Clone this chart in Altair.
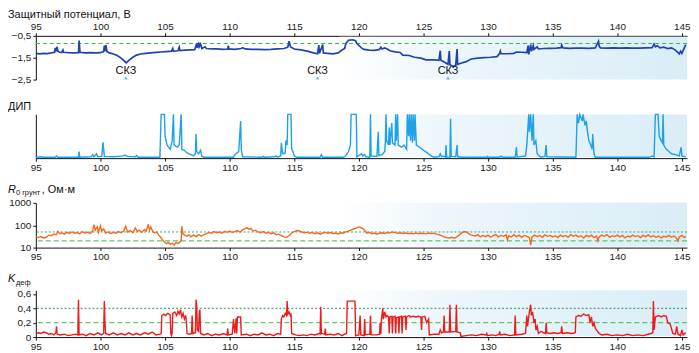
import altair as alt
import pandas as pd

# ---------------- data ----------------
X_TICKS = [95, 100, 105, 110, 115, 120, 125, 130, 135, 140, 145]

# Защитный потенциал, В : (km, V)
POTENTIAL = [
    (95.0, -1.30), (95.3, -1.32), (95.6, -1.30), (95.9, -1.31), (96.2, -1.28), (96.45, -1.25),
    (96.5, -1.05), (96.55, -1.22), (96.65, -1.00), (96.7, -1.20), (96.8, -1.24), (97.0, -1.26),
    (97.1, -1.15), (97.15, -1.25), (97.5, -1.27), (97.9, -1.28), (98.3, -1.27), (98.35, -0.72),
    (98.42, -1.25), (98.8, -1.28), (99.2, -1.27), (99.6, -1.28), (100.0, -1.27), (100.25, -1.22),
    (100.3, -0.95), (100.35, -1.20), (100.42, -0.92), (100.5, -1.22), (100.7, -1.28), (101.0, -1.33),
    (101.3, -1.40), (101.6, -1.52), (101.85, -1.65), (102.0, -1.73), (102.2, -1.62), (102.5, -1.48),
    (102.8, -1.38), (103.1, -1.33), (103.5, -1.30), (103.9, -1.28), (104.3, -1.26), (104.7, -1.24),
    (105.1, -1.22), (105.5, -1.20), (105.6, -1.08), (105.65, -1.20), (106.0, -1.18), (106.1, -1.02),
    (106.15, -1.17), (106.6, -1.15), (107.0, -1.14), (107.3, -1.13), (107.45, -0.85), (107.5, -1.05),
    (107.6, -0.80), (107.65, -1.00), (107.75, -0.88), (107.85, -1.08), (108.1, -1.00), (108.2, -1.08),
    (108.6, -1.10), (109.0, -1.10), (109.5, -1.12), (109.85, -1.10), (109.9, -0.95), (109.95, -1.10),
    (110.4, -1.12), (110.9, -1.08), (111.0, -1.04), (111.2, -1.10), (111.7, -1.12), (112.2, -1.12),
    (112.7, -1.13), (113.2, -1.12), (113.7, -1.10), (114.2, -1.08), (114.5, -1.02), (114.6, -0.74),
    (114.7, -1.00), (115.0, -1.10), (115.5, -1.14), (116.0, -1.20), (116.5, -1.28), (116.8, -1.32),
    (116.9, -0.92), (116.95, -1.30), (117.2, -0.90), (117.25, -1.28), (117.6, -1.30), (118.0, -1.32),
    (118.4, -1.28), (118.7, -1.15), (118.9, -1.08), (119.0, -0.85), (119.2, -0.70), (119.5, -0.68),
    (119.75, -0.72), (119.85, -0.85), (120.2, -1.05), (120.4, -1.12), (120.8, -1.15), (121.2, -1.16),
    (121.6, -1.12), (121.7, -1.02), (121.8, -1.10), (122.0, -1.05), (122.2, -1.10), (122.4, -1.18),
    (122.8, -1.23), (123.2, -1.26), (123.4, -1.38), (123.9, -1.40), (124.3, -1.48), (124.8, -1.52),
    (125.2, -1.60), (125.8, -1.60), (126.2, -1.62), (126.3, -1.18), (126.35, -1.62), (126.6, -1.70),
    (126.9, -1.80), (127.0, -1.20), (127.05, -1.82), (127.3, -1.90), (127.5, -1.85), (127.6, -1.10),
    (127.65, -1.80), (127.9, -1.75), (128.3, -1.68), (128.7, -1.56), (129.2, -1.52), (129.7, -1.50),
    (130.2, -1.48), (130.7, -1.45), (130.9, -1.30), (130.95, -1.20), (131.0, -1.32), (131.5, -1.32),
    (132.0, -1.30), (132.2, -1.24), (132.6, -1.25), (133.0, -1.27), (133.1, -0.95), (133.15, -1.35),
    (133.3, -0.90), (133.35, -1.20), (133.5, -0.95), (133.55, -1.12), (133.8, -1.00), (133.9, -1.10),
    (134.3, -1.08), (134.8, -1.07), (135.3, -1.06), (135.65, -1.04), (135.7, -0.92), (135.8, -1.05),
    (136.3, -1.07), (136.8, -1.06), (137.3, -1.06), (137.8, -1.07), (138.3, -1.05), (138.55, -0.75),
    (138.6, -0.98), (138.7, -1.05), (139.2, -1.06), (139.7, -1.05), (140.2, -1.06), (140.7, -1.05),
    (141.2, -1.06), (141.7, -1.06), (142.2, -1.05), (142.7, -1.04), (142.85, -0.88), (142.95, -1.00),
    (143.1, -0.95), (143.3, -1.05), (143.6, -1.02), (143.9, -1.08), (144.2, -1.05), (144.5, -1.15),
    (144.8, -1.32), (144.9, -1.20), (145.0, -1.30), (145.3, -0.90),
]
POT_LIMIT = -0.85
SKZ_KM = [101.97, 116.8, 126.9]
SKZ_LABEL = ["СКЗ", "СКЗ", "СКЗ"]

# ДИП (relative units, clipped at top)
DIP = [
    (95.0, 0.02), (95.4, 0.03), (95.5, 0.02), (96.5, 0.02), (96.6, 0.05), (96.7, 0.02), (98.3, 0.02),
    (98.35, 0.15), (98.4, 0.02), (99.3, 0.03), (99.4, 0.08), (99.5, 0.03), (99.7, 0.10), (99.8, 0.03),
    (100.1, 0.04), (100.2, 0.36), (100.3, 0.04), (101.0, 0.03), (101.8, 0.05), (101.9, 0.07),
    (102.1, 0.04), (102.7, 0.03), (102.8, 0.06), (102.9, 0.02), (104.6, 0.02), (104.7, 1.0),
    (104.95, 1.0), (105.0, 0.5), (105.15, 0.3), (105.4, 0.2), (105.55, 0.4), (105.65, 1.0),
    (105.7, 0.3), (105.95, 0.25), (106.1, 0.3), (106.25, 1.0), (106.3, 0.2), (106.5, 0.18),
    (106.7, 0.12), (107.0, 0.08), (107.2, 0.05), (107.35, 0.1), (107.4, 0.55), (107.45, 0.15),
    (107.6, 0.1), (107.75, 0.18), (107.85, 0.04), (108.0, 0.02), (110.3, 0.02), (110.4, 0.08),
    (110.5, 0.10), (110.7, 0.15), (110.85, 0.85), (110.9, 0.2), (111.0, 0.03), (112.5, 0.02),
    (112.6, 0.04), (112.7, 0.02), (113.5, 0.03), (113.6, 0.05), (113.7, 0.02), (113.95, 0.05),
    (114.0, 0.35), (114.1, 0.10), (114.3, 0.12), (114.35, 0.40), (114.45, 0.3), (114.5, 1.0),
    (114.75, 1.0), (114.8, 0.2), (114.9, 0.15), (115.0, 0.05), (115.2, 0.02), (117.0, 0.02),
    (117.1, 0.08), (117.2, 0.02), (118.8, 0.02), (119.0, 0.06), (119.2, 0.15), (119.35, 0.3),
    (119.4, 1.0), (119.8, 1.0), (119.85, 0.03), (120.1, 0.08), (120.2, 0.10), (120.3, 0.05),
    (120.45, 0.08), (120.55, 0.03), (120.85, 0.02), (120.9, 1.0), (120.95, 0.05), (121.4, 0.04),
    (121.5, 0.6), (121.55, 0.06), (121.8, 0.08), (122.0, 0.15), (122.05, 0.35), (122.1, 1.0),
    (122.15, 0.4), (122.3, 0.3), (122.35, 0.7), (122.4, 0.3), (122.55, 0.8), (122.6, 0.35),
    (122.8, 0.3), (122.85, 1.0), (122.9, 0.4), (123.0, 1.0), (123.05, 0.3), (123.3, 0.25),
    (123.5, 0.3), (123.7, 0.2), (123.75, 1.0), (123.85, 0.5), (123.9, 1.0), (124.0, 0.4),
    (124.05, 1.0), (124.15, 0.35), (124.2, 1.0), (124.3, 0.4), (124.35, 1.0), (124.45, 0.3),
    (124.7, 0.25), (125.0, 0.18), (125.3, 0.12), (125.6, 0.05), (125.8, 0.02), (126.2, 0.03),
    (126.3, 0.10), (126.4, 0.03), (126.5, 0.05), (126.7, 0.02), (126.75, 0.3), (126.8, 0.03),
    (127.05, 0.02), (127.1, 0.9), (127.15, 0.04), (127.5, 0.03), (127.6, 0.3), (127.65, 0.03),
    (128.0, 0.02), (129.9, 0.02), (129.95, 0.04), (130.0, 0.02), (130.9, 0.02), (131.0, 0.05),
    (131.1, 0.02), (132.1, 0.02), (132.2, 0.25), (132.25, 0.02), (132.9, 0.05), (133.0, 0.3),
    (133.15, 1.0), (133.2, 0.6), (133.3, 1.0), (133.4, 0.4), (133.5, 1.0), (133.55, 0.3),
    (133.7, 0.4), (133.8, 0.1), (133.95, 0.05), (134.1, 0.02), (134.4, 0.04), (134.5, 0.3),
    (134.55, 0.03), (136.8, 0.02), (136.9, 1.0), (137.0, 0.8), (137.1, 1.0), (137.3, 0.85),
    (137.35, 1.0), (137.5, 0.75), (137.6, 0.85), (137.7, 0.6), (137.8, 0.4), (137.95, 0.3),
    (138.05, 0.2), (138.1, 0.55), (138.2, 0.1), (138.3, 0.02), (142.5, 0.02), (142.7, 0.05),
    (142.85, 0.03), (142.95, 1.0), (143.15, 1.0), (143.25, 0.5), (143.4, 0.4), (143.5, 0.35),
    (143.55, 1.0), (143.6, 0.3), (143.8, 0.2), (144.0, 0.15), (144.2, 0.1), (144.5, 0.08),
    (144.8, 0.05), (144.95, 0.25), (145.0, 0.05), (145.3, 0.03),
]

# R0 грунт, Ом·м
R0 = [
    (95.0, 30), (95.2, 28), (95.4, 31), (95.6, 27), (95.8, 29), (96.0, 36), (96.2, 34), (96.4, 40),
    (96.6, 38), (96.7, 53), (96.85, 42), (97.0, 46), (97.2, 40), (97.4, 48), (97.6, 43), (97.8, 50),
    (98.0, 44), (98.2, 47), (98.4, 41), (98.6, 52), (98.8, 45), (99.0, 49), (99.2, 43), (99.4, 55),
    (99.5, 107), (99.6, 60), (99.75, 85), (99.85, 48), (100.0, 95), (100.1, 55), (100.25, 70),
    (100.4, 45), (100.6, 50), (100.8, 42), (101.0, 48), (101.2, 44), (101.4, 52), (101.6, 46),
    (101.8, 55), (101.95, 90), (102.1, 50), (102.3, 58), (102.5, 46), (102.7, 75), (102.85, 52),
    (103.0, 60), (103.2, 48), (103.4, 65), (103.55, 55), (103.7, 110), (103.8, 60), (103.9, 85),
    (104.05, 52), (104.2, 45), (104.35, 50), (104.5, 37), (104.65, 30), (104.8, 22), (104.95, 18),
    (105.1, 15), (105.25, 17), (105.4, 14), (105.55, 16), (105.7, 13), (105.85, 17), (106.0, 15),
    (106.15, 18), (106.25, 20), (106.3, 90), (106.4, 40), (106.55, 35), (106.7, 32), (106.85, 37),
    (107.0, 30), (107.2, 36), (107.4, 31), (107.6, 38), (107.8, 33), (108.0, 37), (108.2, 42),
    (108.4, 47), (108.6, 44), (108.8, 52), (109.0, 46), (109.2, 50), (109.4, 44), (109.6, 53),
    (109.8, 48), (110.0, 55), (110.2, 47), (110.4, 52), (110.6, 58), (110.8, 50), (111.0, 62),
    (111.2, 70), (111.35, 78), (111.5, 65), (111.65, 72), (111.8, 55), (112.0, 60), (112.2, 50),
    (112.4, 46), (112.6, 52), (112.8, 44), (113.0, 48), (113.2, 42), (113.4, 46), (113.6, 38),
    (113.8, 40), (114.0, 34), (114.2, 30), (114.4, 28), (114.6, 34), (114.8, 45), (115.0, 52),
    (115.2, 58), (115.4, 55), (115.6, 50), (115.8, 46), (116.0, 49), (116.2, 44), (116.4, 47),
    (116.6, 42), (116.8, 46), (117.0, 40), (117.2, 45), (117.4, 48), (117.6, 44), (117.8, 47),
    (118.0, 43), (118.2, 45), (118.4, 41), (118.6, 46), (118.8, 44), (119.0, 50), (119.2, 55),
    (119.4, 62), (119.6, 68), (119.8, 75), (120.0, 84), (120.15, 78), (120.3, 70), (120.45, 60),
    (120.6, 44), (120.8, 48), (121.0, 42), (121.2, 45), (121.4, 40), (121.6, 44), (121.8, 46),
    (122.0, 43), (122.2, 47), (122.4, 45), (122.6, 50), (122.8, 47), (123.0, 44), (123.2, 46),
    (123.4, 43), (123.6, 45), (123.8, 42), (124.0, 44), (124.2, 41), (124.4, 45), (124.6, 42),
    (124.8, 44), (125.0, 43), (125.2, 41), (125.4, 45), (125.6, 42), (125.8, 44), (126.0, 40),
    (126.2, 38), (126.4, 34), (126.6, 30), (126.8, 28), (127.0, 27), (127.2, 29), (127.4, 26),
    (127.6, 31), (127.8, 38), (128.0, 48), (128.2, 52), (128.4, 47), (128.6, 38), (128.8, 35),
    (129.0, 33), (129.2, 38), (129.4, 30), (129.6, 35), (129.8, 31), (130.0, 36), (130.2, 29),
    (130.4, 34), (130.6, 38), (130.8, 30), (131.0, 35), (131.2, 32), (131.4, 37), (131.5, 22),
    (131.6, 34), (131.8, 30), (132.0, 38), (132.2, 31), (132.4, 36), (132.6, 29), (132.8, 35),
    (133.0, 32), (133.2, 28), (133.3, 13), (133.4, 30), (133.6, 36), (133.8, 31), (134.0, 35),
    (134.2, 29), (134.4, 37), (134.6, 32), (134.8, 35), (135.0, 30), (135.2, 34), (135.4, 28),
    (135.6, 36), (135.8, 31), (136.0, 35), (136.2, 29), (136.4, 38), (136.6, 32), (136.8, 36),
    (137.0, 30), (137.2, 34), (137.4, 27), (137.6, 35), (137.8, 31), (138.0, 36), (138.2, 28),
    (138.4, 33), (138.5, 20), (138.6, 30), (138.8, 36), (139.0, 32), (139.2, 38), (139.4, 29),
    (139.6, 34), (139.8, 31), (140.0, 36), (140.2, 30), (140.4, 35), (140.6, 27), (140.8, 33),
    (141.0, 30), (141.2, 36), (141.4, 31), (141.6, 34), (141.8, 28), (142.0, 35), (142.2, 31),
    (142.4, 37), (142.6, 30), (142.8, 34), (143.0, 29), (143.2, 33), (143.4, 27), (143.6, 32),
    (143.8, 30), (144.0, 35), (144.2, 29), (144.4, 33), (144.6, 26), (144.7, 20), (144.8, 30),
    (145.0, 35), (145.2, 28), (145.3, 32),
]
R0_LIMITS = [50, 20]

# K деф
KDEF = [
    (95.0, 0.05), (95.2, 0.06), (95.4, 0.05), (95.6, 0.07), (95.8, 0.06), (96.0, 0.04), (96.2, 0.05),
    (96.4, 0.03), (96.55, 0.06), (96.6, 0.15), (96.65, 0.04), (96.9, 0.03), (97.2, 0.04), (97.5, 0.02),
    (97.8, 0.03), (98.1, 0.04), (98.25, 0.03), (98.3, 0.52), (98.35, 0.03), (98.6, 0.04), (98.9, 0.02),
    (99.2, 0.05), (99.5, 0.03), (99.8, 0.06), (100.1, 0.03), (100.25, 0.05), (100.3, 0.50),
    (100.35, 0.20), (100.4, 0.05), (100.7, 0.03), (101.0, 0.06), (101.3, 0.03), (101.6, 0.05),
    (101.9, 0.03), (102.2, 0.06), (102.5, 0.03), (102.8, 0.05), (103.1, 0.03), (103.4, 0.06),
    (103.7, 0.04), (104.0, 0.07), (104.3, 0.03), (104.6, 0.04), (104.7, 0.05), (104.75, 0.30),
    (104.9, 0.32), (105.05, 0.30), (105.2, 0.33), (105.4, 0.31), (105.45, 0.04), (105.5, 0.02),
    (105.55, 0.05), (105.6, 0.33), (105.75, 0.35), (105.9, 0.30), (106.0, 0.36), (106.1, 0.32),
    (106.2, 0.38), (106.3, 0.28), (106.4, 0.33), (106.5, 0.25), (106.6, 0.30), (106.65, 0.22),
    (106.7, 0.05), (106.9, 0.04), (107.05, 0.05), (107.1, 0.30), (107.15, 0.05), (107.35, 0.06),
    (107.4, 0.52), (107.45, 0.45), (107.5, 0.10), (107.6, 0.08), (107.65, 0.35), (107.7, 0.38),
    (107.75, 0.05), (108.0, 0.03), (108.3, 0.05), (108.6, 0.02), (108.9, 0.04), (109.2, 0.03),
    (109.5, 0.05), (109.8, 0.03), (109.85, 0.12), (109.9, 0.03), (110.2, 0.04), (110.3, 0.25),
    (110.4, 0.05), (110.5, 0.26), (110.55, 0.05), (110.6, 0.28), (110.85, 0.28), (110.9, 0.03),
    (111.3, 0.04), (111.6, 0.02), (111.9, 0.04), (112.2, 0.03), (112.5, 0.06), (112.8, 0.03),
    (113.1, 0.04), (113.4, 0.02), (113.7, 0.05), (113.95, 0.04), (114.0, 0.25), (114.1, 0.30),
    (114.2, 0.28), (114.3, 0.33), (114.4, 0.30), (114.45, 0.50), (114.5, 0.32), (114.6, 0.35),
    (114.7, 0.30), (114.75, 0.33), (114.8, 0.05), (115.1, 0.03), (115.4, 0.02), (115.7, 0.03),
    (116.0, 0.02), (116.3, 0.04), (116.6, 0.03), (116.9, 0.05), (117.0, 0.04), (117.05, 0.42),
    (117.1, 0.05), (117.35, 0.04), (117.4, 0.12), (117.45, 0.03), (117.8, 0.04), (118.1, 0.03),
    (118.4, 0.05), (118.7, 0.02), (118.9, 0.04), (119.05, 0.05), (119.1, 0.50), (119.7, 0.50),
    (119.75, 0.02), (120.0, 0.03), (120.1, 0.30), (120.15, 0.03), (120.4, 0.02), (120.45, 0.25),
    (120.5, 0.03), (120.85, 0.04), (120.9, 0.30), (120.95, 0.03), (121.4, 0.03), (121.6, 0.04),
    (121.65, 0.20), (121.7, 0.04), (121.75, 0.25), (121.85, 0.40), (121.9, 0.25), (122.0, 0.35),
    (122.1, 0.28), (122.2, 0.30), (122.3, 0.28), (122.35, 0.05), (122.4, 0.28), (122.55, 0.29),
    (122.6, 0.05), (122.65, 0.28), (122.8, 0.29), (122.85, 0.05), (122.9, 0.27), (123.05, 0.28),
    (123.1, 0.05), (123.15, 0.28), (123.3, 0.29), (123.35, 0.05), (123.4, 0.28), (123.6, 0.29),
    (123.65, 0.10), (123.7, 0.28), (123.9, 0.30), (124.0, 0.28), (124.2, 0.29), (124.4, 0.28),
    (124.6, 0.29), (124.8, 0.28), (124.85, 0.10), (124.9, 0.28), (125.1, 0.29), (125.25, 0.20),
    (125.4, 0.25), (125.45, 0.03), (125.8, 0.04), (126.2, 0.04), (126.3, 0.10), (126.4, 0.06),
    (126.55, 0.07), (126.6, 0.30), (126.65, 0.07), (127.0, 0.07), (127.05, 0.45), (127.1, 0.07),
    (127.5, 0.08), (127.55, 0.45), (127.6, 0.07), (127.85, 0.06), (127.9, 0.01), (128.3, 0.02),
    (128.7, 0.03), (129.1, 0.02), (129.5, 0.04), (129.85, 0.03), (129.9, 0.05), (129.95, 0.02),
    (130.3, 0.03), (130.6, 0.02), (130.85, 0.04), (130.9, 0.08), (130.95, 0.03), (131.3, 0.04),
    (131.7, 0.02), (132.05, 0.03), (132.1, 0.30), (132.15, 0.03), (132.6, 0.04), (132.9, 0.05),
    (133.0, 0.30), (133.05, 0.15), (133.2, 0.35), (133.3, 0.45), (133.35, 0.30), (133.45, 0.35),
    (133.55, 0.20), (133.65, 0.25), (133.7, 0.10), (133.8, 0.15), (133.9, 0.05), (134.1, 0.08),
    (134.3, 0.06), (134.45, 0.05), (134.5, 0.20), (134.55, 0.06), (134.8, 0.05), (135.1, 0.06),
    (135.4, 0.05), (135.65, 0.06), (135.7, 0.15), (135.75, 0.05), (136.1, 0.06), (136.5, 0.05),
    (136.75, 0.06), (136.8, 0.28), (137.0, 0.30), (137.2, 0.29), (137.4, 0.32), (137.6, 0.30),
    (137.8, 0.31), (137.9, 0.20), (138.0, 0.28), (138.1, 0.15), (138.2, 0.20), (138.3, 0.12),
    (138.6, 0.05), (138.8, 0.03), (139.2, 0.04), (139.6, 0.02), (140.0, 0.03), (140.4, 0.02),
    (140.8, 0.04), (141.2, 0.02), (141.6, 0.03), (142.0, 0.02), (142.4, 0.04), (142.6, 0.05),
    (142.75, 0.06), (142.8, 0.50), (142.85, 0.10), (142.95, 0.28), (143.2, 0.30), (143.4, 0.28),
    (143.6, 0.30), (143.8, 0.29), (143.9, 0.20), (144.1, 0.18), (144.3, 0.05), (144.5, 0.04),
    (144.6, 0.15), (144.7, 0.04), (144.9, 0.02), (145.0, 0.10), (145.1, 0.03), (145.3, 0.06),
]
KDEF_LIMITS = [0.4, 0.2]

# ---------------- layout / style ----------------
FONT = "Liberation Sans"
X_DOMAIN = [95, 145.4]
W, H = 655, 303
P1 = (44, 0)      # pixel range (bottom, top) of each strip inside the plot area
P2 = (123, 79)
P3 = (213, 168)
P4 = (303, 256)

one = pd.DataFrame({"k": [0]})
GRAD = alt.Gradient(
    gradient="linear",
    stops=[alt.GradientStop(color="#ffffff", offset=0),
           alt.GradientStop(color="#edf6fb", offset=0.3),
           alt.GradientStop(color="#d9edf7", offset=1)],
    x1=0, x2=1, y1=0, y2=0,
)


def x_axis(orient, offset):
    return alt.Axis(orient=orient, offset=offset, values=X_TICKS, title=None, tickSize=3,
                    labelPadding=1, labelFontSize=10, labelFont=FONT, labelColor="#222",
                    domainColor="#111", tickColor="#111", grid=False, labelFlush=False)


def x_enc(orient, offset):
    return alt.X("km:Q", scale=alt.Scale(domain=X_DOMAIN, nice=False, zero=False),
                 axis=x_axis(orient, offset))


def shade(y_bottom, y_top):
    return alt.Chart(one).mark_rect(color=GRAD).encode(
        x=alt.XDatum(118.5), x2=alt.X2Datum(145.4),
        y=alt.value(y_bottom), y2=alt.value(y_top))


def hrule(v, color, dash):
    return alt.Chart(one).mark_rule(color=color, strokeDash=dash, strokeWidth=1).encode(
        y=alt.YDatum(v))


def y_axis(**kw):
    base = dict(orient="left", title=None, tickSize=3, labelPadding=2, labelFontSize=10,
                labelFont=FONT, labelColor="#222", domainColor="#111", tickColor="#111", grid=False)
    base.update(kw)
    return alt.Axis(**base)


comma = "replace(format(datum.value, '.1f'), '.', ',')"

# Panel 1: protective potential
pot_df = pd.DataFrame(POTENTIAL, columns=["km", "v"])
skz_df = pd.DataFrame({"km": SKZ_KM, "t": SKZ_LABEL})
panel1 = alt.layer(
    shade(P1[0], P1[1] + 1),
    hrule(POT_LIMIT, "#3db54a", [4, 3]),
    alt.Chart(pot_df).mark_line(color="#1f44ad", strokeWidth=1.7).encode(
        x=x_enc("top", 0),
        y=alt.Y("v:Q", scale=alt.Scale(domain=[-2.5, -0.5], range=list(P1), nice=False, zero=False),
                axis=y_axis(values=[-0.5, -1.5, -2.5], labelExpr=comma))),
    alt.Chart(skz_df).mark_text(font=FONT, fontSize=11, color="#111").encode(
        x=alt.X("km:Q"), y=alt.YDatum(-2.12), text="t:N"),
    alt.Chart(skz_df).mark_point(shape="triangle-up", filled=True, size=14, color="#7fb0e3", opacity=1).encode(
        x=alt.X("km:Q"), y=alt.YDatum(-2.42)),
)

# Panel 2: DIP
dip_df = pd.DataFrame(DIP, columns=["km", "v"])
panel2 = alt.layer(
    shade(P2[0] - 1, P2[1]),
    alt.Chart(dip_df).mark_line(color="#1ea1e6", strokeWidth=1.4).encode(
        x=x_enc("bottom", P2[0] - H),
        y=alt.Y("v:Q", scale=alt.Scale(domain=[0, 1], range=list(P2), nice=False),
                axis=y_axis(labels=False, ticks=False))),
)

# Panel 3: soil resistivity
r0_df = pd.DataFrame(R0, columns=["km", "v"])
panel3 = alt.layer(
    shade(P3[0] - 1, P3[1]),
    hrule(R0_LIMITS[0], "#35a37c", [2, 2]),
    hrule(R0_LIMITS[1], "#3db54a", [5, 3]),
    alt.Chart(r0_df).mark_line(color="#f26a1f", strokeWidth=1.4).encode(
        x=x_enc("bottom", P3[0] - H),
        y=alt.Y("v:Q", scale=alt.Scale(type="log", domain=[10, 1000], range=list(P3), nice=False),
                axis=y_axis(values=[10, 100, 1000], format="d"))),
)

# Panel 4: K def
k_df = pd.DataFrame(KDEF, columns=["km", "v"])
panel4 = alt.layer(
    shade(P4[0] - 1, P4[1]),
    hrule(KDEF_LIMITS[0], "#2f8f55", [2, 2]),
    hrule(KDEF_LIMITS[1], "#45b83a", [5, 3]),
    alt.Chart(k_df).mark_line(color="#ee1b1b", strokeWidth=1.4).encode(
        x=x_enc("bottom", 0),
        y=alt.Y("v:Q", scale=alt.Scale(domain=[0, 0.65], range=list(P4), nice=False),
                axis=y_axis(values=[0, 0.2, 0.4, 0.6],
                            labelExpr="datum.value == 0 ? '0' : " + comma))),
)


def label(text, x, y, size=11, style="normal"):
    return alt.Chart(one).mark_text(font=FONT, fontSize=size, fontStyle=style, align="left",
                                    baseline="alphabetic", color="#111").encode(
        x=alt.value(x), y=alt.value(y), text=alt.value(text))


titles = alt.layer(
    label("Защитный потенциал, В", -28, -18),
    label("ДИП", -28, 75),
    label("R", -28, 158, 11, "italic"),
    label("0 грунт", -20, 160, 7.5),
    label(", Ом·м", 6, 158),
    label("K", -28, 248, 11, "italic"),
    label("деф", -20, 251, 7.5),
)

chart = (
    alt.layer(panel1, panel2, panel3, panel4, titles)
    .resolve_scale(x="independent", y="independent")
    .properties(width=W, height=H, padding=0, background="white")
    .configure_view(stroke=None)
)

chart.save("out.html", embed_options={"renderer": "svg", "actions": False})
